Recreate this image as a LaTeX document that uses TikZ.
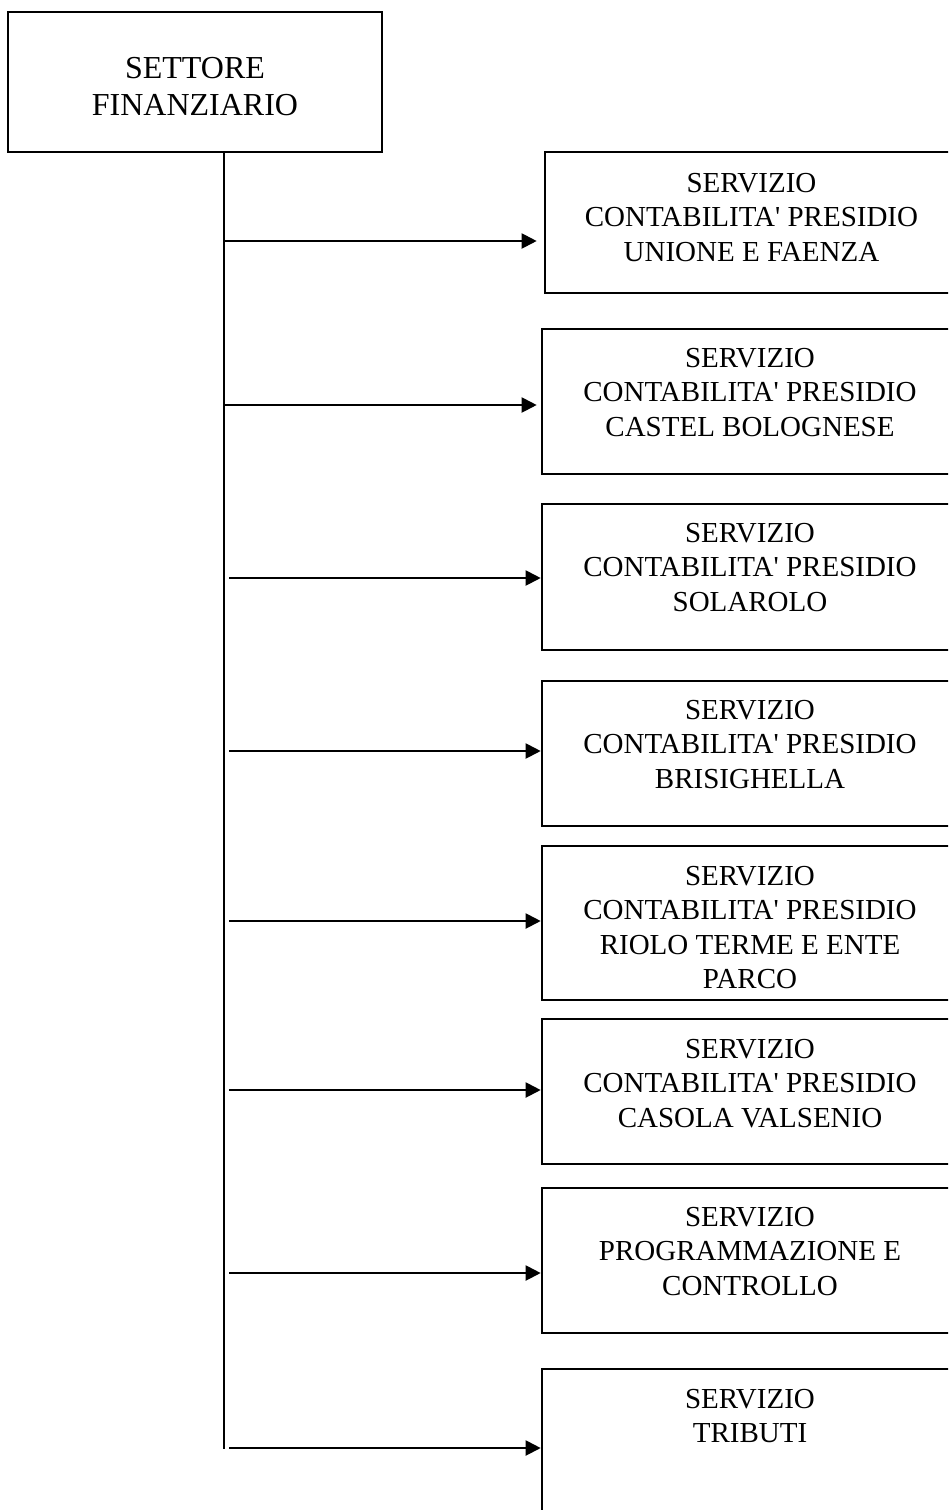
\documentclass[tikz,border=0pt]{standalone}
\usepackage{fontspec}
\setmainfont{Liberation Serif}
\usetikzlibrary{arrows.meta}
\newcommand{\bxtxt}[4]{\parbox[t][#1][t]{#2}{\fontsize{29}{34.5}\selectfont\centering\rule{0pt}{#3}#4}}
\newcommand{\ap}{\textquotesingle}
\begin{document}
\begin{tikzpicture}[x=1pt,y=-1pt,
  topbox/.style={draw=black,line width=2.6pt,inner sep=0pt,minimum width=374pt,minimum height=140pt},
  subbox/.style={draw=black,line width=2.6pt,inner sep=0pt,minimum width=416pt},
  conn/.style={draw=black,line width=2pt},
  arr/.style={draw=black,line width=2pt,-{Triangle[length=15pt,width=15pt]}}]
\useasboundingbox (0,0) rectangle (948,1510);
\clip (0,0) rectangle (948,1510);
\fill[white] (0,0) rectangle (948,1510);
% top box
\node[topbox] (tb) at (195,82) {\parbox[t][140pt][t]{360pt}{\fontsize{32}{36.5}\selectfont\centering\rule{0pt}{66.6pt}SETTORE\\FINANZIARIO}};
% sub boxes
\node[subbox,minimum height=141pt,minimum width=413pt] (b1) at (751.5,222.5) {\bxtxt{141pt}{400pt}{40pt}{SERVIZIO\\CONTABILITA\ap{} PRESIDIO\\UNIONE E FAENZA}};
\node[subbox,minimum height=145pt] (b2) at (750,401.5) {\bxtxt{145pt}{400pt}{38pt}{SERVIZIO\\CONTABILITA\ap{} PRESIDIO\\CASTEL BOLOGNESE}};
\node[subbox,minimum height=146pt] (b3) at (750,577) {\bxtxt{146pt}{400pt}{38pt}{SERVIZIO\\CONTABILITA\ap{} PRESIDIO\\SOLAROLO}};
\node[subbox,minimum height=145pt] (b4) at (750,753.5) {\bxtxt{145pt}{400pt}{38pt}{SERVIZIO\\CONTABILITA\ap{} PRESIDIO\\BRISIGHELLA}};
\node[subbox,minimum height=154pt] (b5) at (750,923) {\bxtxt{154pt}{400pt}{39pt}{SERVIZIO\\CONTABILITA\ap{} PRESIDIO\\RIOLO TERME E ENTE\\PARCO}};
\node[subbox,minimum height=145pt] (b6) at (750,1091.5) {\bxtxt{145pt}{400pt}{39pt}{SERVIZIO\\CONTABILITA\ap{} PRESIDIO\\CASOLA VALSENIO}};
\node[subbox,minimum height=145pt] (b7) at (750,1260.5) {\bxtxt{145pt}{400pt}{38pt}{SERVIZIO\\PROGRAMMAZIONE E\\CONTROLLO}};
\node[subbox,minimum height=170pt] (b8) at (750,1454) {\bxtxt{170pt}{400pt}{39pt}{SERVIZIO\\TRIBUTI}};
% vertical trunk
\coordinate (vtop) at (224,152);
\coordinate (vbot) at (224,1449);
\draw[conn] (tb.south -| vtop) -- (vbot);
% arrow start points
\coordinate (s1) at (224,241);
\coordinate (s2) at (224,405);
\coordinate (s3) at (229,578);
\coordinate (s4) at (229,751);
\coordinate (s5) at (229,921);
\coordinate (s6) at (229,1090);
\coordinate (s7) at (229,1273);
\coordinate (s8) at (229,1448);
\draw[arr,shorten >=7pt] (s1) -- (s1 -| b1.west);
\draw[arr,shorten >=4pt] (s2) -- (s2 -| b2.west);
\draw[arr] (s3) -- (s3 -| b3.west);
\draw[arr] (s4) -- (s4 -| b4.west);
\draw[arr] (s5) -- (s5 -| b5.west);
\draw[arr] (s6) -- (s6 -| b6.west);
\draw[arr] (s7) -- (s7 -| b7.west);
\draw[arr] (s8) -- (s8 -| b8.west);
\end{tikzpicture}
\end{document}
